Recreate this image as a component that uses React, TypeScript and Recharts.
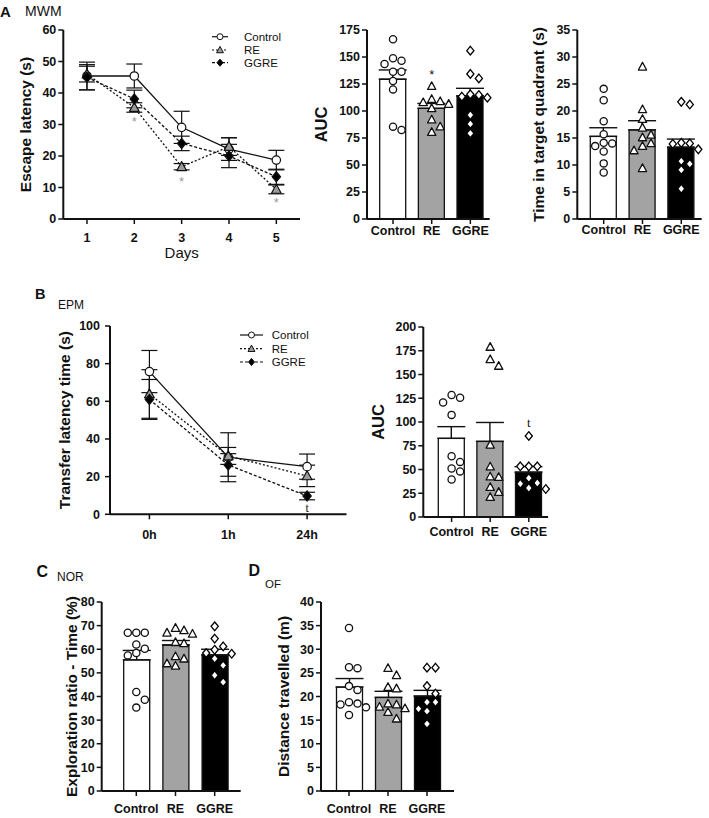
import React from 'react'
import {
  ComposedChart, LineChart, Line, Bar, Scatter, XAxis, YAxis, ErrorBar, Legend, Label, Cell,
} from 'recharts'

const FONT = '"Liberation Sans", Arial, Helvetica, sans-serif'
const SERIF = '"Liberation Serif", "Times New Roman", serif'
const INK = '#111'

const GROUPS = ['Control', 'RE', 'GGRE']

// A - MWM escape latency per day
const DAYS = [1, 2, 3, 4, 5]
const MWM_CONTROL = [45.4, 45.4, 29.1, 22.2, 18.7]
const MWM_CONTROL_SEM = [4.4, 3.8, 5.1, 3.6, 3.1]
const MWM_RE = [46, 35.4, 16.6, 23, 9.4]
const MWM_RE_SEM = [2.5, 1.5, 1.0, 2.8, 1.4]
const MWM_GGRE = [45, 38.1, 24, 20, 13.4]
const MWM_GGRE_SEM = [4.0, 2.8, 2.3, 3.7, 2.4]
const MWM_STARS = [null, 32, 13.1, null, 6.3]

// A - MWM AUC
const MWM_AUC_MEAN = [129.4, 102.5, 114]
const MWM_AUC_SEM = [8.6, 4.5, 7]
const MWM_AUC_CONTROL = [166.4, 148.8, 146.6, 143.5, 136.4, 136.4, 127.8, 120, 85.5, 82.4]
const MWM_AUC_RE = [123, 111, 109, 108, 106.5, 102.5, 92, 85.5, 80.5]
const MWM_AUC_GGRE = [155.9, 134.3, 130.2, 115.4, 114.8, 113.3, 112.3, 96.3, 88, 79.3]
const MWM_AUC_NOTES = [{ group: 'RE', v: 137, text: '*' }]

// A - time in target quadrant
const MWM_TQ_MEAN = [15.3, 16.5, 13.3]
const MWM_TQ_SEM = [1.6, 1.7, 1.5]
const MWM_TQ_CONTROL = [24.1, 22, 18.1, 15.7, 14.1, 14, 13.5, 12.5, 10.3, 8.6]
const MWM_TQ_RE = [28.2, 20.3, 18.5, 16.9, 15.6, 15.1, 14, 13.5, 12.7, 9.4]
const MWM_TQ_GGRE = [21.7, 21.2, 14.1, 14, 13.9, 12.9, 10.7, 10.2, 9.1, 5.6]

// B - EPM transfer latency
const TIMES = ['0h', '1h', '24h']
const EPM_CONTROL = [75.8, 30.3, 25.3]
const EPM_CONTROL_SEM = [11.2, 13, 6.7]
const EPM_RE = [63.9, 31, 20.4]
const EPM_RE_SEM = [12.9, 4.5, 5.7]
const EPM_GGRE = [61, 26.2, 9.7]
const EPM_GGRE_SEM = [10.6, 6, 2]
const EPM_T = [null, null, 3.2]

// B - EPM AUC
const EPM_AUC_MEAN = [82.8, 79.6, 47.2]
const EPM_AUC_SEM = [12.3, 19.9, 5.8]
const EPM_AUC_CONTROL = [128.5, 125.5, 120.5, 107.5, 64, 58, 51, 48, 39.5]
const EPM_AUC_RE = [179, 166, 159, 76, 53, 42.5, 42, 31.5, 26.3, 21]
const EPM_AUC_GGRE = [85.3, 53.3, 53.3, 53.3, 41, 35.8, 35, 30.5, 29.5]
const EPM_AUC_NOTES = [{ group: 'GGRE', v: 99, text: 't', serif: true }]

// C - NOR
const NOR_MEAN = [55.5, 61.8, 57.6]
const NOR_SEM = [4, 1.9, 2.4]
const NOR_CONTROL = [67, 67, 67, 62, 60.2, 58.4, 57.4, 41.9, 38.6, 35.3]
const NOR_RE = [69, 68, 67, 66.5, 63, 62.5, 57, 56, 54, 53]
const NOR_GGRE = [69.7, 64.5, 61.2, 59.8, 58.4, 58.1, 56, 53.2, 49, 46.1]

// D - OF
const OF_MEAN = [22, 19.8, 20.1]
const OF_SEM = [1.8, 1.3, 1.2]
const OF_CONTROL = [34.5, 26.2, 26, 22.2, 21.4, 18.8, 18.5, 18.3, 17.7, 16.1]
const OF_RE = [26, 24.5, 22, 21.7, 18.5, 18.3, 17.8, 17.5, 16.7, 15.3]
const OF_GGRE = [26.1, 26.1, 22.2, 20.6, 18.8, 18.8, 17.4, 16.9, 14.2]

const BAR_FILL = ['#ffffff', '#a3a3a3', '#000000']
const BAR_MARK = ['circle', 'triangle', 'diamond']

const AXIS_LINE = { stroke: INK, strokeWidth: 2 }
const TICK_LINE = { stroke: INK, strokeWidth: 1.5 }
const TICK = { fontSize: 12.5, fontWeight: 700, fill: INK, fontFamily: FONT }

function Marker({ kind, x, y, r, fill, stroke = INK, sw = 1.2 }: any) {
  if (kind === 'circle') {
    return <circle cx={x} cy={y} r={r} fill={fill} stroke={stroke} strokeWidth={sw} />
  }
  if (kind === 'triangle') {
    const h = r * 1.15
    return (
      <polygon
        points={`${x},${y - h * 1.05} ${x + h},${y + h * 0.8} ${x - h},${y + h * 0.8}`}
        fill={fill} stroke={stroke} strokeWidth={sw} strokeLinejoin="round"
      />
    )
  }
  const v = r * 1.2
  return (
    <polygon
      points={`${x},${y - v} ${x + r},${y} ${x},${y + v} ${x - r},${y}`}
      fill={fill} stroke={stroke} strokeWidth={sw}
    />
  )
}

// spread points sideways so they don't overlap (pixel space)
function swarm(values: number[], ppu: number, step = 8.5, gap = 8): number[] {
  const order = values.map((_, i) => i).sort((a, b) => values[b] - values[a])
  const placed: [number, number][] = []
  const out = values.map(() => 0)
  for (const i of order) {
    const y = values[i] * ppu
    for (let k = 0; k < 15; k++) {
      const x = k === 0 ? 0 : (k % 2 ? 1 : -1) * Math.ceil(k / 2) * step
      if (placed.every(([px, py]) => Math.hypot(px - x, py - y) >= gap)) {
        out[i] = x
        placed.push([x, y])
        break
      }
    }
  }
  return out
}

const vTitle = (text: string, cx: number, size: number) => (props: any) => {
  const vb = props.viewBox
  const cy = vb.y + vb.height / 2
  return (
    <text
      x={cx} y={cy} transform={`rotate(-90 ${cx} ${cy})`} textAnchor="middle" dy="0.36em"
      style={{ fontFamily: FONT, fontSize: size, fontWeight: 700, fill: INK }}
    >
      {text}
    </text>
  )
}

interface Box { left: number; x0: number; x1: number; y0: number; y1: number }

function BarPanel({
  box, padL, padR, yMax, yTicks, yLabel, labelX, labelSize = 15.5, means, sems, points, notes = [], tickMargin,
}: any) {
  const { left, x0, x1, y0, y1 } = box as Box
  const MT = 10, MR = 8, XH = 30
  const data = GROUPS.map((name, i) => ({ name, mean: means[i], err: [0, sems[i]] }))
  const ppu = (y1 - y0) / yMax
  const dots: any[] = []
  GROUPS.forEach((name, gi) => {
    const dx = swarm(points[gi], ppu)
    points[gi].forEach((v: number, i: number) => dots.push({ name, v, dx: dx[i], g: gi }))
  })
  notes.forEach((n: any) => dots.push({ name: n.group, v: n.v, dx: 0, g: GROUPS.indexOf(n.group), text: n.text, serif: n.serif }))

  const renderDot = (p: any) => {
    const d = p.payload
    if (d.text) {
      return (
        <text x={p.cx} y={p.cy} dy={d.serif ? '0.3em' : '0.6em'} textAnchor="middle"
          style={{ fontFamily: d.serif ? SERIF : FONT, fontSize: 13, fill: INK }}>
          {d.text}
        </text>
      )
    }
    return <Marker kind={BAR_MARK[d.g]} x={p.cx + d.dx} y={p.cy} r={3.6} fill="#fff" stroke={d.g === 2 ? '#000' : INK} sw={1.3} />
  }

  return (
    <div style={{ position: 'absolute', left, top: y0 - MT }}>
      <ComposedChart
        width={x1 + MR - left} height={MT + (y1 - y0) + XH} data={data}
        margin={{ top: MT, right: MR, bottom: 0, left: 0 }}
      >
        <XAxis
          dataKey="name" allowDuplicatedCategory={false} padding={{ left: padL, right: padR }} height={XH}
          tickSize={5} tickMargin={tickMargin} axisLine={AXIS_LINE} tickLine={TICK_LINE} tick={TICK} interval={0}
        />
        <YAxis
          type="number" width={x0 - left} domain={[0, yMax]} ticks={yTicks} interval={0}
          tickSize={5} tickMargin={2} axisLine={AXIS_LINE} tickLine={TICK_LINE} tick={TICK}
        >
          <Label content={vTitle(yLabel, labelX - left, labelSize)} />
        </YAxis>
        <Bar dataKey="mean" barSize={26} stroke={INK} strokeWidth={1.3} isAnimationActive={false}>
          {GROUPS.map((g, i) => <Cell key={g} fill={BAR_FILL[i]} />)}
          <ErrorBar dataKey="err" width={14} stroke={INK} strokeWidth={1.4} direction="y" />
        </Bar>
        <Scatter data={dots} dataKey="v" isAnimationActive={false} shape={renderDot} />
      </ComposedChart>
    </div>
  )
}

const SERIES = [
  { key: 'c', name: 'Control', dash: undefined, kind: 'circle', fill: '#fff' },
  { key: 'r', name: 'RE', dash: '2 2', kind: 'triangle', fill: '#9c9c9c' },
  { key: 'g', name: 'GGRE', dash: '3 2', kind: 'diamond', fill: '#000' },
]

function SeriesLegend({ lx0, lx1, tx, ys }: any) {
  return (
    <svg width={110} height={46} style={{ display: 'block', overflow: 'visible' }}>
      {SERIES.map((s, i) => (
        <g key={s.key}>
          <line x1={lx0} x2={lx1} y1={ys[i]} y2={ys[i]} stroke={INK} strokeWidth={1.2} strokeDasharray={s.dash} />
          <Marker kind={s.kind} x={(lx0 + lx1) / 2} y={ys[i]} r={3} fill={s.fill} sw={1} />
          <text x={tx} y={ys[i]} dy="0.36em" style={{ fontFamily: FONT, fontSize: 11.5, fill: INK }}>{s.name}</text>
        </g>
      ))}
    </svg>
  )
}

function LinePanel({
  box, rows, xDomain, xTicks, xFmt, yMax, yTicks, yLabel, labelX, tickMargin, yTickMargin = 2,
  xTitle, legend, sig,
}: any) {
  const { left, x0, x1, y0, y1 } = box as Box
  const MT = 10, MR = 8
  const XH = xTitle ? 45 : 30

  const sigDot = (p: any) => {
    if (p.value == null || p.cy == null) return <g key={`s${p.index}`} />
    return (
      <text key={`s${p.index}`} x={p.cx} y={p.cy} dy={sig.dy} textAnchor="middle"
        style={{ fontFamily: sig.font, fontSize: sig.size, fill: sig.color }}>
        {sig.text}
      </text>
    )
  }

  return (
    <div style={{ position: 'absolute', left, top: y0 - MT }}>
      <LineChart
        width={x1 + MR - left} height={MT + (y1 - y0) + XH} data={rows}
        margin={{ top: MT, right: MR, bottom: 0, left: 0 }}
      >
        <XAxis
          type="number" dataKey="x" domain={xDomain} ticks={xTicks} tickFormatter={xFmt} interval={0}
          height={XH} tickSize={5} tickMargin={tickMargin} axisLine={AXIS_LINE} tickLine={TICK_LINE} tick={TICK}
        >
          {xTitle && (
            <Label content={(p: any) => (
              <text x={p.viewBox.x + p.viewBox.width / 2} y={p.viewBox.y + 38.5} textAnchor="middle"
                style={{ fontFamily: FONT, fontSize: 15, fill: INK }}>{xTitle}</text>
            )} />
          )}
        </XAxis>
        <YAxis
          type="number" width={x0 - left} domain={[0, yMax]} ticks={yTicks} interval={0}
          tickSize={5} tickMargin={yTickMargin} axisLine={AXIS_LINE} tickLine={TICK_LINE} tick={TICK}
        >
          <Label content={vTitle(yLabel, labelX - left, 15.5)} />
        </YAxis>
        <Legend
          layout="vertical" align="center" verticalAlign="middle"
          wrapperStyle={{ left: legend.left, top: legend.top, width: 110, height: 46 }}
          content={() => <SeriesLegend {...legend} />}
        />
        {SERIES.map((s) => (
          <Line
            key={s.key} dataKey={s.key} name={s.name} stroke={INK} strokeWidth={1.3} strokeDasharray={s.dash}
            isAnimationActive={false}
            dot={(p: any) => <Marker key={`${s.key}${p.index}`} kind={s.kind} x={p.cx} y={p.cy} r={4.2} fill={s.fill} sw={1.2} />}
          >
            <ErrorBar dataKey={`${s.key}Err`} width={8} stroke={INK} strokeWidth={1.2} direction="y" />
          </Line>
        ))}
        <Line dataKey="sig" stroke="none" legendType="none" isAnimationActive={false} dot={sigDot} activeDot={false} />
      </LineChart>
    </div>
  )
}

const mwmRows = DAYS.map((d, i) => ({
  x: d,
  c: MWM_CONTROL[i], cErr: MWM_CONTROL_SEM[i],
  r: MWM_RE[i], rErr: MWM_RE_SEM[i],
  g: MWM_GGRE[i], gErr: MWM_GGRE_SEM[i],
  sig: MWM_STARS[i],
}))

const epmRows = TIMES.map((_, i) => ({
  x: i,
  c: EPM_CONTROL[i], cErr: EPM_CONTROL_SEM[i],
  r: EPM_RE[i], rErr: EPM_RE_SEM[i],
  g: EPM_GGRE[i], gErr: EPM_GGRE_SEM[i],
  sig: EPM_T[i],
}))

const range = (max: number, step: number) => Array.from({ length: max / step + 1 }, (_, i) => i * step)

export default function App() {
  return (
    <div style={{ position: 'relative', width: 709, height: 818, background: '#fff', fontFamily: FONT }}>
      <style>{'body{margin:0}'}</style>

      <LinePanel
        box={{ left: 0, x0: 63.3, x1: 300, y0: 30, y1: 219 }}
        rows={mwmRows} xDomain={[0.5, 5.5]} xTicks={DAYS} xFmt={(v: number) => String(v)}
        yMax={60} yTicks={range(60, 10)} yLabel="Escape latency (s)" labelX={25} tickMargin={9}
        xTitle="Days"
        legend={{ left: 205, top: 6, lx0: 7, lx1: 23, tx: 39, ys: [10.7, 24, 36.7] }}
        sig={{ text: '*', font: FONT, size: 13, color: '#9a9a9a', dy: '0.6em' }}
      />
      <BarPanel
        box={{ left: 305, x0: 367, x1: 489.7, y0: 30, y1: 219 }} padL={6.7} padR={0}
        yMax={175} yTicks={range(175, 25)} yLabel="AUC" labelX={321} labelSize={16.5}
        means={MWM_AUC_MEAN} sems={MWM_AUC_SEM}
        points={[MWM_AUC_CONTROL, MWM_AUC_RE, MWM_AUC_GGRE]} notes={MWM_AUC_NOTES} tickMargin={2}
      />
      <BarPanel
        box={{ left: 515, x0: 577.3, x1: 701.7, y0: 30, y1: 219 }} padL={7} padR={1}
        yMax={35} yTicks={range(35, 5)} yLabel="Time in target quadrant (s)" labelX={538}
        means={MWM_TQ_MEAN} sems={MWM_TQ_SEM}
        points={[MWM_TQ_CONTROL, MWM_TQ_RE, MWM_TQ_GGRE]} tickMargin={1}
      />

      <LinePanel
        box={{ left: 40, x0: 110, x1: 346.5, y0: 326, y1: 514.3 }}
        rows={epmRows} xDomain={[-0.5, 2.5]} xTicks={[0, 1, 2]} xFmt={(v: number) => TIMES[v]}
        yMax={100} yTicks={range(100, 20)} yLabel="Transfer latency time (s)" labelX={64}
        tickMargin={11} yTickMargin={5}
        legend={{ left: 190, top: 9, lx0: 10, lx1: 33, tx: 41.7, ys: [10, 23.7, 37] }}
        sig={{ text: 't', font: SERIF, size: 12, color: INK, dy: '0.3em' }}
      />
      <BarPanel
        box={{ left: 360, x0: 423.3, x1: 548.1, y0: 326.7, y1: 516.7 }} padL={9} padR={0}
        yMax={200} yTicks={range(200, 25)} yLabel="AUC" labelX={378} labelSize={16.5}
        means={EPM_AUC_MEAN} sems={EPM_AUC_SEM}
        points={[EPM_AUC_CONTROL, EPM_AUC_RE, EPM_AUC_GGRE]} notes={EPM_AUC_NOTES} tickMargin={5}
      />

      <BarPanel
        box={{ left: 50, x0: 101.7, x1: 240.7, y0: 601.7, y1: 790.7 }} padL={15} padR={6.4}
        yMax={80} yTicks={range(80, 10)} yLabel="Exploration ratio - Time (%)" labelX={71.5}
        means={NOR_MEAN} sems={NOR_SEM}
        points={[NOR_CONTROL, NOR_RE, NOR_GGRE]} tickMargin={8}
      />
      <BarPanel
        box={{ left: 265, x0: 321, x1: 454, y0: 601.7, y1: 790.7 }} padL={8.5} padR={7.5}
        yMax={40} yTicks={range(40, 5)} yLabel="Distance travelled (m)" labelX={283}
        means={OF_MEAN} sems={OF_SEM}
        points={[OF_CONTROL, OF_RE, OF_GGRE]} tickMargin={8}
      />

      <svg width={709} height={818} style={{ position: 'absolute', left: 0, top: 0, pointerEvents: 'none' }}>
        <g style={{ fontFamily: FONT, fill: INK }}>
          <text x={0} y={17} style={{ fontSize: 15, fontWeight: 700 }}>A</text>
          <text x={25} y={16} style={{ fontSize: 14 }}>MWM</text>
          <text x={35} y={298.5} style={{ fontSize: 14.5, fontWeight: 700 }}>B</text>
          <text x={58} y={308.5} style={{ fontSize: 12 }}>EPM</text>
          <text x={36.5} y={576.5} style={{ fontSize: 16, fontWeight: 700 }}>C</text>
          <text x={57} y={580.7} style={{ fontSize: 12 }}>NOR</text>
          <text x={248.5} y={576} style={{ fontSize: 16, fontWeight: 700 }}>D</text>
          <text x={265} y={588.3} style={{ fontSize: 11.5 }}>OF</text>
        </g>
      </svg>
    </div>
  )
}
